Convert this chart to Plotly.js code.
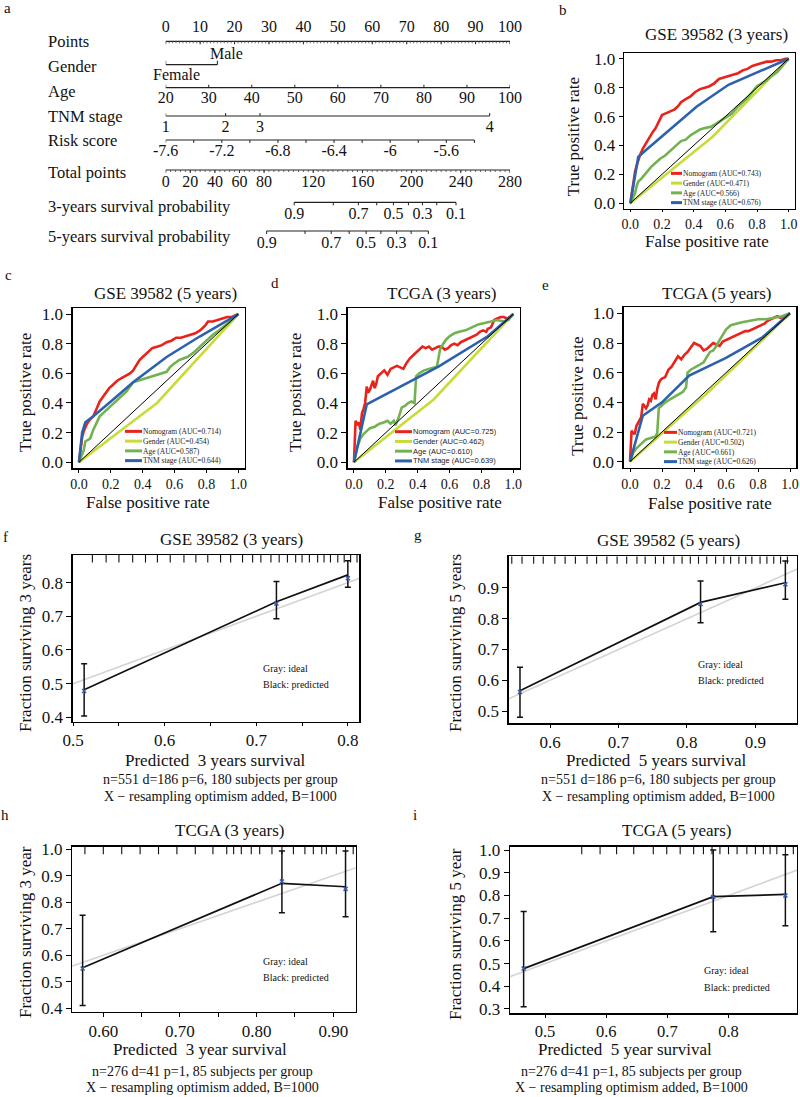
<!DOCTYPE html>
<html>
<head>
<meta charset="utf-8">
<script src="https://cdn.plot.ly/plotly-3.0.1.min.js"></script>
<style>
  html, body { margin: 0; padding: 0; background: #fff; }
  #chart { width: 800px; height: 1097px; }
</style>
</head>
<body>
<div id="chart"></div>
<script>
const W = 800, H = 1097;
const SERIF = 'Liberation Serif, Times New Roman, serif';
const SANS = 'Liberation Sans, Arial, sans-serif';

// === NOMOGRAM (a) — every row is expressed in "points" (0-100) ===
const pointsVals = [0, 10, 20, 30, 40, 50, 60, 70, 80, 90, 100];
const genderLabels = ['Female', 'Male'];
const genderPts = [0, 15];
const ageVals = [20, 30, 40, 50, 60, 70, 80, 90, 100];
const agePts = [0, 12.5, 25, 37.5, 50, 62.5, 75, 87.5, 100];
const tnmLabels = ['1', '2', '3', '4'];
const tnmPts = [0, 17.4, 27.4, 94.1];
const riskVals = [-7.6, -7.4, -7.2, -7.0, -6.8, -6.6, -6.4, -6.2, -6.0, -5.8, -5.6, -5.4];
const riskPts = [0, 8.15, 16.3, 24.45, 32.6, 40.75, 48.9, 57.05, 65.2, 73.35, 81.5, 89.65];
const riskShown = [-7.6, -7.2, -6.8, -6.4, -6, -5.6];
const totalVals = [0, 20, 40, 60, 80, 120, 160, 200, 240, 280];
const totalMax = 280;
const survVals = [0.9, 0.8, 0.7, 0.6, 0.5, 0.4, 0.3, 0.2, 0.1];
const surv3Total = [104.5, 136.3, 156.7, 171.6, 185.2, 197.4, 208.8, 220.4, 236.1];
const surv5Total = [82.1, 113.3, 134.6, 149.2, 163.0, 175.0, 187.8, 199.6, 213.6];
const survShown = [0.9, 0.7, 0.5, 0.3, 0.1];

// === ROC curves (b-e): order Nomogram, Gender, Age, TNM stage ===
const rocNames = ['Nomogram', 'Gender', 'Age', 'TNM stage'];
const rocColors = ['#e8231c', '#c8dc38', '#72b250', '#2c62ad'];
const rocDiag = [0, 1];

const bAuc = ['0.743', '0.471', '0.566', '0.676'];
const bNomoX = [0,0.01,0.02,0.03,0.04,0.05,0.06,0.08,0.10,0.12,0.14,0.16,0.18,0.20,0.22,0.24,0.26,0.28,0.30,0.32,0.35,0.38,0.41,0.44,0.47,0.50,0.53,0.56,0.59,0.62,0.65,0.68,0.71,0.74,0.77,0.80,0.83,0.86,0.89,0.92,0.95,0.98,1];
const bNomoY = [0,0.08,0.16,0.22,0.26,0.30,0.33,0.38,0.42,0.46,0.49,0.52,0.56,0.61,0.62,0.63,0.64,0.65,0.67,0.70,0.72,0.74,0.77,0.79,0.80,0.81,0.83,0.86,0.87,0.88,0.89,0.90,0.92,0.93,0.95,0.96,0.97,0.98,0.98,0.99,0.99,1,1];
const bGenderX = [0, 0.52, 1];
const bGenderY = [0, 0.46, 1];
const bAgeX = [0,0.03,0.04,0.05,0.07,0.10,0.13,0.16,0.19,0.22,0.26,0.29,0.32,0.35,0.38,0.41,0.44,0.47,0.51,0.54,0.57,0.61,0.64,0.68,0.71,0.74,0.77,0.80,0.83,0.86,0.89,0.93,0.96,1];
const bAgeY = [0,0.07,0.12,0.15,0.17,0.21,0.25,0.28,0.31,0.33,0.37,0.40,0.43,0.44,0.47,0.49,0.51,0.52,0.53,0.55,0.57,0.60,0.62,0.67,0.70,0.73,0.77,0.81,0.83,0.85,0.88,0.91,0.95,1];
const bTnmX = [0, 0.05, 0.09, 0.42, 0.62, 1];
const bTnmY = [0, 0.32, 0.36, 0.67, 0.82, 1];

const cAuc = ['0.714', '0.454', '0.587', '0.644'];
const cNomoX = [0,0.01,0.02,0.03,0.05,0.07,0.09,0.11,0.13,0.15,0.17,0.19,0.21,0.24,0.27,0.30,0.32,0.34,0.36,0.38,0.40,0.43,0.46,0.49,0.52,0.55,0.58,0.61,0.64,0.67,0.70,0.73,0.76,0.79,0.81,0.84,0.87,0.90,0.93,0.96,1];
const cNomoY = [0,0.10,0.17,0.21,0.26,0.29,0.31,0.36,0.41,0.44,0.47,0.50,0.52,0.55,0.57,0.59,0.60,0.62,0.66,0.69,0.71,0.74,0.77,0.78,0.79,0.81,0.82,0.84,0.84,0.85,0.86,0.87,0.89,0.92,0.95,0.95,0.96,0.97,0.98,0.98,1];
const cGenderX = [0, 0.49, 1];
const cGenderY = [0, 0.40, 1];
const cAgeX = [0,0.02,0.03,0.04,0.07,0.09,0.11,0.13,0.16,0.19,0.22,0.26,0.28,0.30,0.32,0.34,0.37,0.40,0.45,0.49,0.52,0.55,0.57,0.59,0.63,0.68,0.72,0.76,0.80,0.84,0.88,0.93,0.96,1];
const cAgeY = [0,0.05,0.08,0.14,0.16,0.22,0.26,0.31,0.34,0.37,0.40,0.44,0.46,0.48,0.51,0.54,0.55,0.56,0.58,0.59,0.60,0.61,0.64,0.66,0.69,0.71,0.74,0.78,0.82,0.86,0.89,0.93,0.96,1];
const cTnmX = [0, 0.02, 0.04, 0.09, 0.2, 0.34, 0.55, 0.76, 1];
const cTnmY = [0, 0.2, 0.27, 0.31, 0.41, 0.54, 0.71, 0.85, 1];

const dAuc = ['0.725', '0.462', '0.610', '0.639'];
const dNomoX = [0,0.005,0.01,0.02,0.03,0.04,0.05,0.06,0.07,0.08,0.09,0.10,0.11,0.12,0.13,0.14,0.15,0.17,0.19,0.21,0.23,0.25,0.27,0.29,0.31,0.33,0.35,0.37,0.39,0.41,0.43,0.45,0.47,0.49,0.51,0.53,0.55,0.57,0.59,0.61,0.63,0.65,0.67,0.69,0.71,0.73,0.75,0.77,0.79,0.81,0.83,0.84,0.86,0.88,0.90,0.92,0.94,0.96,0.98,1];
const dNomoY = [0,0.12,0.28,0.25,0.27,0.22,0.33,0.36,0.40,0.51,0.47,0.49,0.52,0.55,0.50,0.53,0.58,0.60,0.62,0.59,0.63,0.64,0.65,0.64,0.63,0.67,0.70,0.72,0.74,0.76,0.78,0.77,0.78,0.76,0.77,0.78,0.78,0.76,0.77,0.79,0.80,0.79,0.81,0.82,0.83,0.84,0.85,0.86,0.88,0.89,0.88,0.90,0.91,0.96,0.97,0.98,0.98,0.97,0.98,1];
const dGenderX = [0, 0.5, 1];
const dGenderY = [0, 0.424, 1];
const dAgeX = [0,0.02,0.04,0.06,0.08,0.10,0.13,0.16,0.19,0.21,0.23,0.25,0.26,0.28,0.30,0.32,0.34,0.36,0.38,0.385,0.39,0.41,0.44,0.47,0.50,0.52,0.53,0.54,0.56,0.58,0.60,0.63,0.66,0.70,0.74,0.78,0.82,0.86,0.90,0.94,0.97,1];
const dAgeY = [0,0.10,0.16,0.19,0.21,0.23,0.24,0.26,0.27,0.28,0.26,0.28,0.25,0.30,0.37,0.38,0.40,0.41,0.40,0.48,0.58,0.60,0.62,0.63,0.64,0.645,0.70,0.76,0.80,0.83,0.85,0.87,0.88,0.89,0.91,0.93,0.94,0.95,0.96,0.95,0.96,1];
const dTnmX = [0, 0.08, 0.53, 0.84, 1];
const dTnmY = [0, 0.39, 0.645, 0.85, 1];

const eAuc = ['0.721', '0.502', '0.661', '0.626'];
const eNomoX = [0,0.01,0.02,0.03,0.04,0.05,0.06,0.07,0.08,0.09,0.10,0.11,0.12,0.13,0.14,0.15,0.16,0.17,0.18,0.19,0.20,0.22,0.24,0.26,0.28,0.30,0.32,0.34,0.36,0.38,0.40,0.42,0.44,0.46,0.48,0.50,0.52,0.54,0.56,0.58,0.60,0.62,0.64,0.66,0.68,0.70,0.72,0.74,0.76,0.78,0.80,0.82,0.84,0.86,0.88,0.90,0.92,0.94,0.96,1];
const eNomoY = [0,0.21,0.19,0.19,0.24,0.26,0.28,0.30,0.39,0.37,0.36,0.38,0.42,0.41,0.45,0.46,0.42,0.49,0.53,0.55,0.56,0.57,0.62,0.64,0.68,0.71,0.69,0.72,0.74,0.77,0.80,0.79,0.78,0.75,0.76,0.78,0.80,0.79,0.78,0.81,0.82,0.83,0.84,0.85,0.86,0.87,0.88,0.88,0.89,0.90,0.91,0.92,0.93,0.95,0.96,0.97,0.98,0.97,0.98,1];
const eGenderX = [0, 0.5, 1];
const eGenderY = [0, 0.48, 1];
const eAgeX = [0,0.02,0.04,0.07,0.10,0.13,0.16,0.17,0.175,0.18,0.20,0.22,0.25,0.28,0.31,0.33,0.35,0.36,0.38,0.40,0.43,0.46,0.48,0.50,0.52,0.54,0.56,0.58,0.60,0.63,0.66,0.70,0.75,0.80,0.85,0.90,0.95,1];
const eAgeY = [0,0.06,0.09,0.12,0.15,0.16,0.17,0.19,0.28,0.36,0.38,0.40,0.42,0.44,0.46,0.47,0.50,0.60,0.62,0.63,0.65,0.67,0.71,0.74,0.75,0.78,0.82,0.86,0.89,0.92,0.93,0.94,0.95,0.96,0.96,0.97,0.98,1];
const eTnmX = [0, 0.08, 0.2, 0.37, 0.6, 0.83, 1];
const eTnmY = [0, 0.31, 0.40, 0.58, 0.70, 0.84, 1];

// === CALIBRATION (f-i) ===
const idealLine = [0, 1];
const fPred = [0.512, 0.722, 0.800], fObs = [0.482, 0.743, 0.823];
const fLo = [0.404, 0.693, 0.786], fHi = [0.559, 0.803, 0.865], fCorr = [0.478, 0.738, 0.813];
const fRug = [0.521,0.536,0.55,0.565,0.579,0.592,0.606,0.621,0.634,0.647,0.661,0.672,0.685,0.696,0.705,0.716,0.725,0.734,0.743,0.75,0.758,0.767,0.774,0.781,0.789,0.796,0.803,0.81];
const gPred = [0.556, 0.82, 0.944], gObs = [0.566, 0.853, 0.917];
const gLo = [0.48, 0.787, 0.863], gHi = [0.642, 0.923, 0.988], gCorr = [0.562, 0.848, 0.912];
const gRug = [0.544,0.559,0.576,0.59,0.607,0.622,0.637,0.654,0.668,0.683,0.698,0.712,0.727,0.739,0.754,0.766,0.781,0.793,0.805,0.817,0.829,0.842,0.854,0.864,0.876,0.886,0.895,0.907,0.917,0.927,0.937,0.947];
const hPred = [0.573, 0.833, 0.916], hObs = [0.553, 0.871, 0.858];
const hLo = [0.41, 0.76, 0.745], hHi = [0.751, 0.993, 0.993], hCorr = [0.55, 0.878, 0.85];
const hRug = [0.576,0.6,0.624,0.648,0.672,0.696,0.72,0.743,0.761,0.77,0.78,0.793,0.804,0.82,0.833,0.848,0.863,0.874,0.885,0.891,0.904,0.916,0.926];
const iPred = [0.465, 0.775, 0.893], iObs = [0.478, 0.795, 0.805];
const iLo = [0.31, 0.64, 0.667], iHi = [0.73, 1.0, 0.98], iCorr = [0.478, 0.793, 0.80];
const iRug = [0.56,0.59,0.617,0.645,0.677,0.699,0.721,0.743,0.759,0.773,0.786,0.8,0.814,0.83,0.844,0.857,0.868,0.879,0.893,0.906];

// === helpers ===
const traces = [], annotations = [], shapes = [];
const domX = (a, b) => [a / W, b / W];
const domY = (top, bottom) => [1 - bottom / H, 1 - top / H];

function txt(text, x, y, size, extra) {
  return Object.assign({
    text, x: x / W, y: 1 - y / H, xref: 'paper', yref: 'paper', showarrow: false,
    xanchor: 'center', yanchor: 'middle', borderpad: 0,
    font: { family: SERIF, size, color: '#111' }
  }, extra || {});
}

function segs(xs, y0, y1) {
  const x = [], y = [];
  xs.forEach(v => { x.push(v, v, null); y.push(y0, y1, null); });
  return { x, y };
}

function lineTrace(x, y, xa, ya, color, width) {
  return { type: 'scatter', mode: 'lines', x, y, xaxis: xa, yaxis: ya,
    line: { color, width }, hoverinfo: 'skip', showlegend: false };
}

// === panel a ===
function nomoRow(pts, labels, lineY, labY, tickLen, minor) {
  traces.push(lineTrace([Math.min(...pts), Math.max(...pts)], [lineY, lineY], 'x', 'y', '#222', 1.2));
  const t = segs(pts, lineY, lineY + tickLen);
  traces.push(lineTrace(t.x, t.y, 'x', 'y', '#222', 1));
  if (minor) {
    const m = segs(minor, lineY, lineY + 2);
    traces.push(lineTrace(m.x, m.y, 'x', 'y', '#444', 0.8));
  }
  const lx = [], lt = [];
  pts.forEach((p, i) => { if (labels[i] !== '') { lx.push(p); lt.push(labels[i]); } });
  traces.push({ type: 'scatter', mode: 'text', x: lx, y: lx.map(() => labY), text: lt,
    xaxis: 'x', yaxis: 'y', textposition: 'middle center', cliponaxis: false,
    textfont: { family: SERIF, size: 16, color: '#111' }, hoverinfo: 'skip', showlegend: false });
}

const pointMinor = [];
for (let p = 0; p <= 100; p += 1) pointMinor.push(p);
const totalMinor = [];
for (let t = 0; t <= totalMax; t += 4) totalMinor.push(t * 100 / totalMax);

nomoRow(pointsVals, pointsVals.map(String), 41.3, 28.3, 3, pointMinor);
traces.push(lineTrace([genderPts[0], genderPts[1]], [64.7, 64.7], 'x', 'y', '#222', 1.2));
const gT = segs(genderPts, 64.7, 60.7);
traces.push(lineTrace(gT.x, gT.y, 'x', 'y', '#222', 1));
annotations.push({ text: genderLabels[1], x: genderPts[1], y: 53.3, xref: 'x', yref: 'y', xshift: 9,
  showarrow: false, borderpad: 0, font: { family: SERIF, size: 16, color: '#111' } });
annotations.push({ text: genderLabels[0], x: genderPts[0], y: 74, xref: 'x', yref: 'y', xshift: 11,
  showarrow: false, borderpad: 0, font: { family: SERIF, size: 16, color: '#111' } });
nomoRow(agePts, ageVals.map(String), 87.7, 99, -3);
nomoRow(tnmPts, tnmLabels, 116, 127.7, -3);
nomoRow(riskPts, riskVals.map(v => riskShown.includes(v) ? String(v) : ''), 140, 152.3, 3);
nomoRow(totalVals.map(t => t * 100 / totalMax), totalVals.map(String), 170, 182.7, 3, totalMinor);
nomoRow(surv3Total.map(t => t * 100 / totalMax), survVals.map(v => survShown.includes(v) ? String(v) : ''), 202.3, 215, 3);
nomoRow(surv5Total.map(t => t * 100 / totalMax), survVals.map(v => survShown.includes(v) ? String(v) : ''), 231, 244.3, 3);

const rowNames = ['Points', 'Gender', 'Age', 'TNM stage', 'Risk score', 'Total points',
  '3-years survival probability', '5-years survival probability'];
const rowNameY = [42, 66.7, 91.7, 116, 140.7, 172.3, 206.7, 236.7];
rowNames.forEach((n, i) => annotations.push(txt(n, 47, rowNameY[i], 16.5, { xanchor: 'left' })));

// === ROC panels ===
// legend: one multi-line text block, swatches aligned to its lines
const LEG_SIZE = 7.5, LEG_STEP = LEG_SIZE * 1.3;
function addRoc(k, curves, auc, leg) {
  const xa = 'x' + k, ya = 'y' + k;
  curves.forEach((c, i) => traces.push(lineTrace(c[0], c[1], xa, ya, rocColors[i], 2.6)));
  traces.push(lineTrace(rocDiag, rocDiag, xa, ya, '#000', 1));
  rocNames.forEach((n, i) => {
    const yy = 1 - (leg.cy + (i - 1.5) * LEG_STEP) / H;
    shapes.push({ type: 'line', xref: 'paper', yref: 'paper', x0: leg.x0 / W, x1: leg.x1 / W, y0: yy, y1: yy,
      line: { color: rocColors[i], width: 3 } });
  });
  annotations.push(txt(rocNames.map((n, i) => n + ' (AUC=' + auc[i] + ')').join('<br>'), leg.tx, leg.cy, LEG_SIZE,
    { xanchor: 'left', align: 'left', font: { family: leg.font, size: LEG_SIZE, color: '#222' } }));
}

addRoc(2, [[bNomoX, bNomoY], [bGenderX, bGenderY], [bAgeX, bAgeY], [bTnmX, bTnmY]], bAuc,
  { x0: 671, x1: 682, tx: 682, cy: 188, font: SERIF });
addRoc(3, [[cNomoX, cNomoY], [cGenderX, cGenderY], [cAgeX, cAgeY], [cTnmX, cTnmY]], cAuc,
  { x0: 125, x1: 142, tx: 142, cy: 446, font: SERIF });
addRoc(4, [[dNomoX, dNomoY], [dGenderX, dGenderY], [dAgeX, dAgeY], [dTnmX, dTnmY]], dAuc,
  { x0: 395, x1: 412, tx: 412, cy: 446.3, font: SANS });
addRoc(5, [[eNomoX, eNomoY], [eGenderX, eGenderY], [eAgeX, eAgeY], [eTnmX, eTnmY]], eAuc,
  { x0: 664, x1: 677, tx: 677, cy: 447, font: SERIF });

// === calibration panels ===
function addCal(k, rugAx, pred, obs, lo, hi, corr, rug) {
  const xa = 'x' + k, ya = 'y' + k;
  traces.push(lineTrace(idealLine, idealLine, xa, ya, '#d4d4d4', 1.6));
  const r = segs(rug, 1, 0.955);
  traces.push(lineTrace(r.x, r.y, xa, rugAx, '#111', 1.1));
  traces.push({ type: 'scatter', mode: 'lines', x: pred, y: obs, xaxis: xa, yaxis: ya,
    line: { color: '#111', width: 1.7 }, hoverinfo: 'skip', showlegend: false,
    error_y: { type: 'data', symmetric: false,
      array: hi.map((h, i) => h - obs[i]), arrayminus: lo.map((l, i) => obs[i] - l),
      color: '#111', thickness: 1.5, width: 3 } });
  traces.push({ type: 'scatter', mode: 'markers', x: pred, y: corr, xaxis: xa, yaxis: ya,
    marker: { symbol: 'x-thin', size: 4, color: '#3a5aa8', line: { color: '#3a5aa8', width: 1.5 } },
    hoverinfo: 'skip', showlegend: false });
}
addCal(6, 'y10', fPred, fObs, fLo, fHi, fCorr, fRug);
addCal(7, 'y11', gPred, gObs, gLo, gHi, gCorr, gRug);
addCal(8, 'y12', hPred, hObs, hLo, hHi, hCorr, hRug);
addCal(9, 'y13', iPred, iObs, iLo, iHi, iCorr, iRug);

// === axes ===
function baseAxis(domain, range, k, other, tickvals, ticktext, fontSize, tlen) {
  return {
    domain, range, anchor: other + k, tickvals, ticktext, tickmode: 'array',
    ticks: 'outside', ticklen: tlen || 5, tickwidth: 1, tickcolor: '#000',
    showline: true, mirror: true, linecolor: '#000', linewidth: 1.3,
    showgrid: false, zeroline: false, fixedrange: true,
    tickfont: { family: SERIF, size: fontSize, color: '#111' }
  };
}
const rocTicks = [0, 0.2, 0.4, 0.6, 0.8, 1];
const rocTickText = ['0.0', '0.2', '0.4', '0.6', '0.8', '1.0'];
const rocRange = [-0.04, 1.04];

const layout = {
  width: W, height: H, margin: { l: 0, r: 0, t: 0, b: 0 },
  paper_bgcolor: '#fff', plot_bgcolor: 'rgba(0,0,0,0)', showlegend: false,
  font: { family: SERIF },
  xaxis: { domain: domX(165.7, 510), range: [0, 100], visible: false, fixedrange: true, anchor: 'y' },
  yaxis: { domain: domY(0, 260), range: [260, 0], visible: false, fixedrange: true, anchor: 'x' },

  xaxis2: baseAxis(domX(624, 795), rocRange, 2, 'y', rocTicks, rocTickText, 14, 2),
  yaxis2: baseAxis(domY(53, 209), rocRange, 2, 'x', rocTicks, rocTickText, 17, 4),
  xaxis3: baseAxis(domX(72.6, 244.7), rocRange, 3, 'y', rocTicks, rocTickText, 14, 3),
  yaxis3: baseAxis(domY(308.1, 468.2), rocRange, 3, 'x', rocTicks, rocTickText, 17),
  xaxis4: baseAxis(domX(347.6, 519.7), rocRange, 4, 'y', rocTicks, rocTickText, 14, 3),
  yaxis4: baseAxis(domY(308.1, 468.2), rocRange, 4, 'x', rocTicks, rocTickText, 17),
  xaxis5: baseAxis(domX(623.6, 796.4), rocRange, 5, 'y', rocTicks, rocTickText, 14, 3),
  yaxis5: baseAxis(domY(307.4, 467.6), rocRange, 5, 'x', rocTicks, rocTickText, 17),

  xaxis6: baseAxis(domX(72.7, 359.3), [0.4995, 0.8125], 6, 'y',
    [0.5, 0.55, 0.6, 0.65, 0.7, 0.75, 0.8], ['0.5', '', '0.6', '', '0.7', '', '0.8'], 17, 3),
  yaxis6: baseAxis(domY(555, 721.7), [0.387, 0.882], 6, 'x',
    [0.4, 0.5, 0.6, 0.7, 0.8], ['0.4', '0.5', '0.6', '0.7', '0.8'], 17),
  xaxis7: baseAxis(domX(508.7, 797), [0.5395, 0.961], 7, 'y',
    [0.6, 0.7, 0.8, 0.9], ['0.6', '0.7', '0.8', '0.9'], 17, 3),
  yaxis7: baseAxis(domY(556.3, 723.3), [0.46, 1.003], 7, 'x',
    [0.5, 0.6, 0.7, 0.8, 0.9], ['0.5', '0.6', '0.7', '0.8', '0.9'], 17),
  xaxis8: baseAxis(domX(72.2, 355.5), [0.5594, 0.929], 8, 'y',
    [0.6, 0.65, 0.7, 0.75, 0.8, 0.85, 0.9], ['0.60', '', '0.70', '', '0.80', '', '0.90'], 17, 4),
  yaxis8: baseAxis(domY(846.7, 1011.7), [0.387, 1.009], 8, 'x',
    [0.4, 0.5, 0.6, 0.7, 0.8, 0.9, 1.0], ['0.4', '0.5', '0.6', '0.7', '0.8', '0.9', '1.0'], 17),
  xaxis9: baseAxis(domX(510, 797), [0.4427, 0.912], 9, 'y',
    [0.5, 0.6, 0.7, 0.8], ['0.5', '0.6', '0.7', '0.8'], 16.5, 3),
  yaxis9: baseAxis(domY(846.7, 1013.3), [0.281, 1.015], 9, 'x',
    [0.3, 0.4, 0.5, 0.6, 0.7, 0.8, 0.9, 1.0], ['0.3', '0.4', '0.5', '0.6', '0.7', '0.8', '0.9', '1.0'], 17),

  yaxis10: { overlaying: 'y6', anchor: 'x6', range: [0, 1], visible: false, fixedrange: true },
  yaxis11: { overlaying: 'y7', anchor: 'x7', range: [0, 1], visible: false, fixedrange: true },
  yaxis12: { overlaying: 'y8', anchor: 'x8', range: [0, 1], visible: false, fixedrange: true },
  yaxis13: { overlaying: 'y9', anchor: 'x9', range: [0, 1], visible: false, fixedrange: true },
  shapes, annotations
};

// panel letters
[['a', 7, 8], ['b', 563, 10], ['c', 8, 275], ['d', 275, 283], ['e', 545, 285],
 ['f', 5, 537], ['g', 418, 535], ['h', 5, 815], ['i', 415, 815]]
  .forEach(l => annotations.push(txt(l[0], l[1], l[2], 15)));

// ROC titles
annotations.push(txt('GSE 39582 (3 years)', 716.7, 35, 17));
annotations.push(txt('False positive rate', 706.7, 241, 17));
annotations.push(txt('True positive rate', 573.3, 137, 17, { textangle: -90 }));
annotations.push(txt('GSE 39582 (5 years)', 165, 293.3, 17));
annotations.push(txt('False positive rate', 148, 502.5, 17));
annotations.push(txt('True positive rate', 25, 393, 17, { textangle: -90 }));
annotations.push(txt('TCGA (3 years)', 441.7, 293.3, 17));
annotations.push(txt('False positive rate', 440, 502.5, 17));
annotations.push(txt('True positive rate', 295, 393, 17, { textangle: -90 }));
annotations.push(txt('TCGA (5 years)', 716.7, 293.3, 17));
annotations.push(txt('False positive rate', 710, 503, 17));
annotations.push(txt('True positive rate', 576.7, 396, 17, { textangle: -90 }));

// calibration titles
const calText = [
  ['GSE 39582 (3 years)', 231.7, 539.3, 'Fraction surviving 3 years', 25, 643, 'Predicted  3 years survival', 215, 760.5,
   'n=551 d=186 p=6, 180 subjects per group', 220, 779.5, 796.5, 261.7, 668.3],
  ['GSE 39582 (5 years)', 668.3, 540, 'Fraction surviving 5 years', 455, 643, 'Predicted  5 years survival', 656.7, 760.5,
   'n=551 d=186 p=6, 180 subjects per group', 658.3, 779.5, 796.5, 697, 664.3],
  ['TCGA (3 years)', 230, 830, 'Fraction surviving 3 year', 25, 932, 'Predicted  3 year survival', 200, 1049,
   'n=276 d=41 p=1, 85 subjects per group', 203, 1071.7, 1087.5, 261.7, 961],
  ['TCGA (5 years)', 676.7, 830, 'Fraction surviving 5 year', 455, 934, 'Predicted  5 year survival', 625, 1049,
   'n=276 d=41 p=1, 85 subjects per group', 631, 1071.7, 1087.5, 703.3, 970.7]
];
calText.forEach(c => {
  annotations.push(txt(c[0], c[1], c[2], 17));
  annotations.push(txt(c[3], c[4], c[5], 17, { textangle: -90 }));
  annotations.push(txt(c[6], c[7], c[8], 17));
  annotations.push(txt(c[9], c[10], c[11], 14));
  annotations.push(txt('X \u2212 resampling optimism added, B=1000', c[10], c[12], 14));
  annotations.push(txt('Gray: ideal', c[13], c[14], 10, { xanchor: 'left' }));
  annotations.push(txt('Black: predicted', c[13], c[14] + 16.5, 10, { xanchor: 'left' }));
});

Plotly.newPlot('chart', traces, layout, { staticPlot: true, displayModeBar: false });
</script>
</body>
</html>
